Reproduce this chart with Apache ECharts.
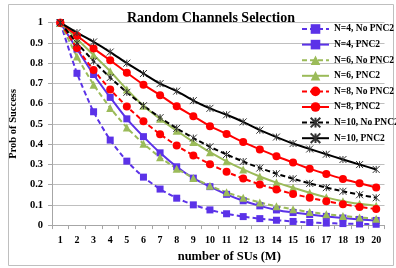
<!DOCTYPE html>
<html>
<head>
<meta charset="utf-8">
<script src="https://cdn.jsdelivr.net/npm/echarts@6/dist/echarts.min.js"></script>
<style>
  html, body { margin: 0; padding: 0; background: #fff; }
  #chart { width: 396px; height: 268px; }
</style>
</head>
<body>
<div id="chart"></div>
<script>
// number of SUs (M)
const sus = ['1', '2', '3', '4', '5', '6', '7', '8', '9', '10', '11', '12', '13', '14', '15', '16', '17', '18', '19', '20'];

const n4NoPnc = [1, 0.75, 0.56, 0.42, 0.316, 0.237, 0.178, 0.133, 0.1, 0.075, 0.056, 0.042, 0.032, 0.024, 0.018, 0.013, 0.01, 0.0075, 0.0056, 0.0042];
const n4Pnc = [1, 0.87, 0.744, 0.631, 0.525, 0.437, 0.357, 0.288, 0.232, 0.19, 0.152, 0.12, 0.095, 0.075, 0.062, 0.052, 0.043, 0.035, 0.028, 0.023];
const n6NoPnc = [1, 0.833, 0.694, 0.579, 0.482, 0.402, 0.335, 0.279, 0.233, 0.194, 0.162, 0.135, 0.112, 0.093, 0.078, 0.065, 0.054, 0.045, 0.038, 0.031];
const n6Pnc = [1, 0.92, 0.84, 0.76, 0.67, 0.59, 0.525, 0.466, 0.411, 0.36, 0.315, 0.275, 0.24, 0.21, 0.185, 0.16, 0.137, 0.118, 0.105, 0.095];
const n8NoPnc = [1, 0.875, 0.766, 0.67, 0.586, 0.513, 0.449, 0.393, 0.344, 0.301, 0.263, 0.23, 0.201, 0.176, 0.154, 0.135, 0.118, 0.103, 0.09, 0.079];
const n8Pnc = [1, 0.936, 0.873, 0.814, 0.753, 0.694, 0.642, 0.587, 0.538, 0.489, 0.45, 0.41, 0.374, 0.34, 0.309, 0.278, 0.253, 0.228, 0.207, 0.186];
const n10NoPnc = [1, 0.9, 0.81, 0.729, 0.656, 0.59, 0.531, 0.478, 0.43, 0.387, 0.349, 0.314, 0.282, 0.254, 0.229, 0.206, 0.185, 0.167, 0.15, 0.135];
const n10Pnc = [1, 0.951, 0.905, 0.855, 0.8, 0.749, 0.699, 0.662, 0.615, 0.577, 0.545, 0.51, 0.469, 0.435, 0.403, 0.376, 0.35, 0.324, 0.299, 0.275];

const font = 'Liberation Serif';
const blue = '#5b32e8';
const green = '#9bbb59';
const red = '#ff0000';
const star = 'path://M0,0L10,10M10,0L0,10M5,0L5,10';

const mkSeries = (name, data, color, symbol, size, dashed) => {
  const isStar = symbol === star;
  return {
    name: name,
    type: 'line',
    data: data,
    smooth: 0.2,
    symbol: symbol,
    symbolSize: size,
    showAllSymbol: true,
    lineStyle: { color: color, width: 2, type: dashed ? [5, 3] : 'solid' },
    itemStyle: isStar
      ? { color: 'rgba(0,0,0,0)', borderColor: '#333', borderWidth: 1 }
      : { color: color, borderWidth: 0 },
    emphasis: { disabled: true }
  };
};

const chart = echarts.init(document.getElementById('chart'));

chart.setOption({
  animation: false,
  textStyle: { fontFamily: font, fontWeight: 'bold', color: '#000' },
  title: {
    text: 'Random Channels Selection',
    left: 206,
    top: 6,
    textAlign: 'center',
    textStyle: { fontFamily: font, fontWeight: 'bold', fontSize: 14, color: '#000' }
  },
  graphic: [{
    type: 'rect',
    z: -1,
    shape: { x: 8.5, y: 4.5, width: 385, height: 261 },
    style: { fill: 'none', stroke: '#bfbfbf', lineWidth: 1 },
    silent: true
  }],
  legend: {
    orient: 'vertical',
    left: 296,
    top: 18,
    itemWidth: 27,
    itemHeight: 12,
    itemGap: 3.6,
    itemTextGap: 2,
    textStyle: { fontFamily: font, fontWeight: 'bold', fontSize: 9.5, lineHeight: 12, color: '#000' }
  },
  grid: { left: 50, right: 11.5, top: 22.7, bottom: 32 },
  xAxis: {
    type: 'category',
    data: sus,
    boundaryGap: true,
    name: 'number of SUs (M)',
    nameLocation: 'middle',
    nameGap: 22,
    nameTextStyle: { fontFamily: font, fontWeight: 'bold', fontSize: 12.5, color: '#000', padding: [0, 0, 0, 22] },
    axisLine: { lineStyle: { color: '#a6a6a6', width: 1 } },
    axisTick: { show: true, length: 4, lineStyle: { color: '#a6a6a6' } },
    axisLabel: { fontFamily: font, fontWeight: 'bold', fontSize: 10, color: '#000', margin: 10 },
    splitLine: { show: false }
  },
  yAxis: {
    type: 'value',
    min: 0,
    max: 1,
    interval: 0.1,
    name: 'Prob of Success',
    nameLocation: 'middle',
    nameGap: 29,
    nameTextStyle: { fontFamily: font, fontWeight: 'bold', fontSize: 10.5, color: '#000' },
    axisLine: { show: true, lineStyle: { color: '#a6a6a6', width: 1 } },
    axisTick: { show: true, length: 4, lineStyle: { color: '#a6a6a6' } },
    axisLabel: { fontFamily: font, fontWeight: 'bold', fontSize: 10.5, color: '#000', margin: 9 },
    splitLine: { lineStyle: { color: '#bfbfbf', width: 1 } }
  },
  series: [
    mkSeries('N=4, No PNC2', n4NoPnc, blue, 'rect', 7, true),
    mkSeries('N=4, PNC2', n4Pnc, blue, 'rect', 7, false),
    mkSeries('N=6, No PNC2', n6NoPnc, green, 'triangle', 8, true),
    mkSeries('N=6, PNC2', n6Pnc, green, 'triangle', 8, false),
    mkSeries('N=8, No PNC2', n8NoPnc, red, 'circle', 8, true),
    mkSeries('N=8, PNC2', n8Pnc, red, 'circle', 8, false),
    mkSeries('N=10, No PNC2', n10NoPnc, '#000', star, 7, true),
    mkSeries('N=10, PNC2', n10Pnc, '#000', star, 7, false)
  ]
});

window.addEventListener('resize', () => {
  chart.resize();
});
</script>
</body>
</html>
